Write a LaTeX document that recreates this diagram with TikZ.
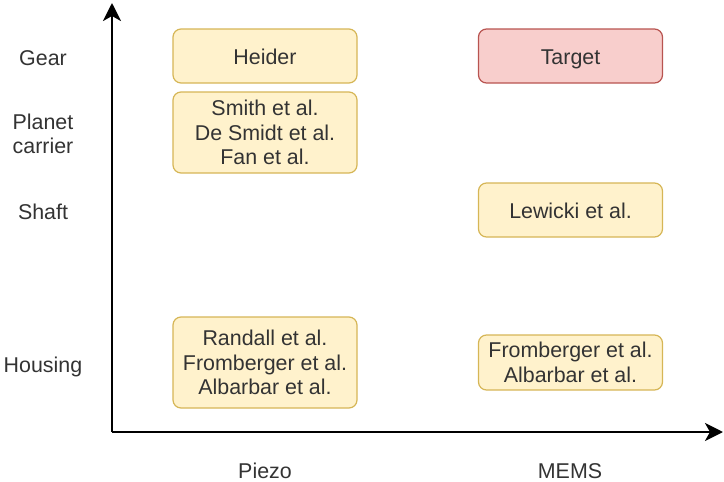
\documentclass[tikz,border=0pt]{standalone}
\usepackage{fontspec}
\setmainfont{Liberation Sans}
\usetikzlibrary{arrows.meta}

\definecolor{yellowfill}{HTML}{FFF2CC}
\definecolor{yellowline}{HTML}{D6B656}
\definecolor{redfill}{HTML}{F8CECC}
\definecolor{redline}{HTML}{B85450}

\begin{document}
\begin{tikzpicture}[x=1pt, y=-1pt,
        every node/.style = {align=center, text=black!80,
            font=\fontsize{21.4}{24.5}\selectfont},
        oneline/.style = {text height=19pt, text depth=2pt},
        paper/.style = {draw=yellowline, fill=yellowfill, line width=1.2pt,
            rounded corners=8pt, inner sep=0pt,
            minimum width=184pt, minimum height=54pt},
        target/.style = {paper, draw=redline, fill=redfill},
        axis/.style = {line width=2.5pt,
            -{Stealth[length=18pt, width=18pt, inset=5pt]}}]
    \useasboundingbox (0, 0) rectangle (724, 482);

    % axes
    \coordinate (origin) at (112, 432);
    \coordinate (ytop) at (112, 3);
    \coordinate (xend) at (723, 432);
    \draw[axis] (origin) -- (ytop);
    \draw[axis] (origin) -- (xend);

    % row labels
    \node[oneline] (gear) at (43, 57) {Gear};
    \node (carrier) at (43, 134) {Planet\\carrier};
    \node[oneline] (shaft) at (43, 211) {Shaft};
    \node[oneline] (housing) at (43, 364) {Housing};

    % column labels
    \node[oneline] (piezo) at (265, 470) {Piezo};
    \node[oneline] (mems) at (570, 470) {MEMS};

    % piezo column
    \node[paper, oneline] (heider) at (265, 56) {Heider};
    \node[paper, minimum height=81pt] (smith) at (265, 132.5)
        {Smith et al.\\De Smidt et al.\\Fan et al.};
    \node[paper, minimum height=91pt] (randall) at (265, 362.5)
        {Randall et al.\\Fromberger et al.\\Albarbar et al.};

    % mems column
    \node[target, oneline] (goal) at (570.5, 56) {Target};
    \node[paper, oneline] (lewicki) at (570.5, 210) {Lewicki et al.};
    \node[paper, minimum height=55pt] (fromberger) at (570.5, 362.5)
        {Fromberger et al.\\Albarbar et al.};
\end{tikzpicture}
\end{document}
